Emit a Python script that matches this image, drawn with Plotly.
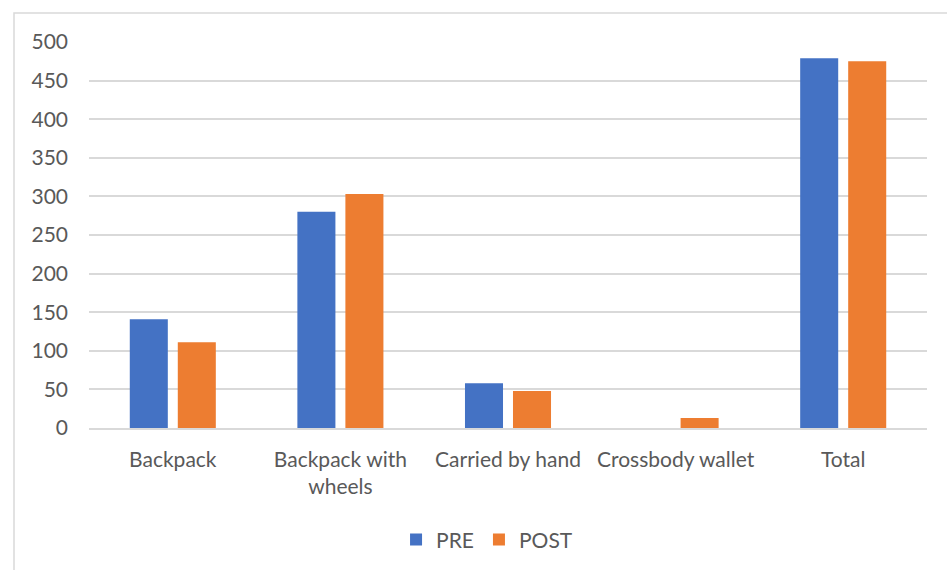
import plotly.graph_objects as go

categories = ["Backpack", "Backpack with<br>wheels", "Carried by hand", "Crossbody wallet", "Total"]
pre_values = [141, 280, 58, 0, 479]
post_values = [111, 303, 48, 13, 475]
y_ticks = [0, 50, 100, 150, 200, 250, 300, 350, 400, 450, 500]

FONT = "Lato"
TXT = "#595959"

fig = go.Figure()
fig.add_trace(go.Bar(name="PRE", x=categories, y=pre_values, marker=dict(color="#4472C4", line=dict(width=0))))
fig.add_trace(go.Bar(name="POST", x=categories, y=post_values, marker=dict(color="#ED7D31", line=dict(width=0))))

fig.update_layout(
    width=947, height=570,
    margin=dict(l=89, r=20, t=42, b=142, autoexpand=False),
    paper_bgcolor="white", plot_bgcolor="white",
    barmode="group", bargap=0.427, bargroupgap=0.208,
    font=dict(family=FONT, size=21, color=TXT),
    showlegend=True,
    legend=dict(orientation="h", x=0.475, xanchor="center", y=-0.29, yanchor="middle",
                font=dict(family=FONT, size=21, color=TXT), itemwidth=30),
    xaxis=dict(showgrid=False, showline=True, linecolor="#d9d9d9", linewidth=1.5, automargin=False,
               ticks="", tickfont=dict(family=FONT, size=21, color=TXT), ticklabelstandoff=12),
    yaxis=dict(range=[0, 500], tickvals=y_ticks, showgrid=True, gridcolor="#d9d9d9", gridwidth=1.5,
               zeroline=False, showline=False, ticks="", automargin=False,
               tickfont=dict(family=FONT, size=21, color=TXT), ticklabelstandoff=20),
    shapes=[dict(type="rect", xref="paper", yref="paper", x0=-0.0895, x1=1.2, y0=-0.6, y1=1.075,
                 line=dict(color="#d9d9d9", width=1.5), fillcolor="rgba(0,0,0,0)", layer="below")],
)

fig.write_html("out.html")
